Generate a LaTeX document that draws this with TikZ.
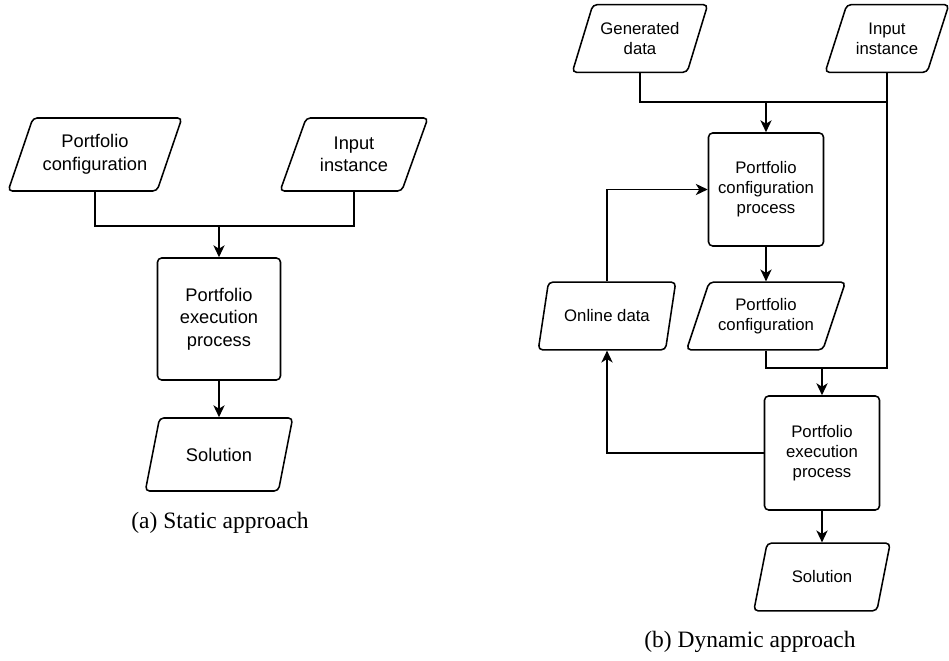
\documentclass[tikz,border=0pt]{standalone}
\usepackage{fontspec}
\setmainfont{Liberation Sans}
\newfontfamily\capfont{Liberation Serif}
\usetikzlibrary{shapes.geometric,arrows.meta}

\begin{document}
\begin{tikzpicture}[x=0.025cm, y=-0.025cm, line width=1.1pt,
  data/.style={trapezium, trapezium left angle=63, trapezium right angle=117,
    trapezium stretches=true, draw, rounded corners=3pt, align=center, inner sep=1pt},
  proc/.style={rectangle, draw, rounded corners=3pt, align=center, inner sep=1pt},
  lfont/.style={font=\fontsize{13}{16}\selectfont},
  rfont/.style={font=\fontsize{11.9}{14.2}\selectfont},
  arr/.style={-{Stealth[length=8.5pt,width=8pt,inset=2.5pt]}}]

\useasboundingbox (0,0) rectangle (949,661);

% (a) the static approach

\node[data, lfont, minimum width=4.35cm, minimum height=1.825cm] (pconfa) at (95,154.5) {Portfolio\\configuration};
\node[data, lfont, minimum width=3.7cm, minimum height=1.825cm] (insta) at (354,154.5) {Input\\instance};
\node[proc, lfont, minimum width=3.075cm, minimum height=3.05cm] (execa) at (219,319) {Portfolio\\execution\\process};
\node[data, lfont, minimum width=3.7cm, minimum height=1.825cm] (sola) at (219,454.5) {Solution};

\coordinate (ja) at (219,226);

\draw (pconfa.south) |- (ja) -| (insta.south);
\draw[arr] (ja) -- (execa.north);
\draw[arr] (execa.south) -- (sola.north);

\node[font=\capfont\fontsize{16.7}{20}\selectfont] (capa) at (220,523) {(a) Static approach};

% (b) the dynamic approach

\node[data, rfont, minimum width=3.4cm, minimum height=1.69cm] (genb) at (640,38.5) {Generated\\data};
\node[data, rfont, minimum width=3.1cm, minimum height=1.69cm] (instb) at (887,38.5) {Input\\instance};
\node[proc, rfont, minimum width=2.875cm, minimum height=2.825cm] (cfgb) at (766,189.5) {Portfolio\\configuration\\process};
\node[data, rfont, minimum width=3.45cm, minimum height=1.69cm] (onlineb) at (607,316) {Online data};
\node[data, rfont, minimum width=3.975cm, minimum height=1.69cm] (pconfb) at (766,316) {Portfolio\\configuration};
\node[proc, rfont, minimum width=2.875cm, minimum height=2.85cm] (execb) at (822,453) {Portfolio\\execution\\process};
\node[data, rfont, minimum width=3.425cm, minimum height=1.69cm] (solb) at (822,577) {Solution};

\coordinate (jb) at (766,102);
\coordinate (jc) at (822,368);

\draw (genb.south) |- (jb) -| (instb.south);
\draw (instb.south) |- (jc);
\draw (pconfb.south) |- (jc);
\draw[arr] (jb) -- (cfgb.north);
\draw[arr] (cfgb.south) -- (pconfb.north);
\draw[arr] (onlineb.north) |- (cfgb.west);
\draw[arr] (jc) -- (execb.north);
\draw[arr] (execb.west) -| (onlineb.south);
\draw[arr] (execb.south) -- (solb.north);

\node[font=\capfont\fontsize{16.7}{20}\selectfont] (capb) at (750,642) {(b) Dynamic approach};

\end{tikzpicture}
\end{document}
